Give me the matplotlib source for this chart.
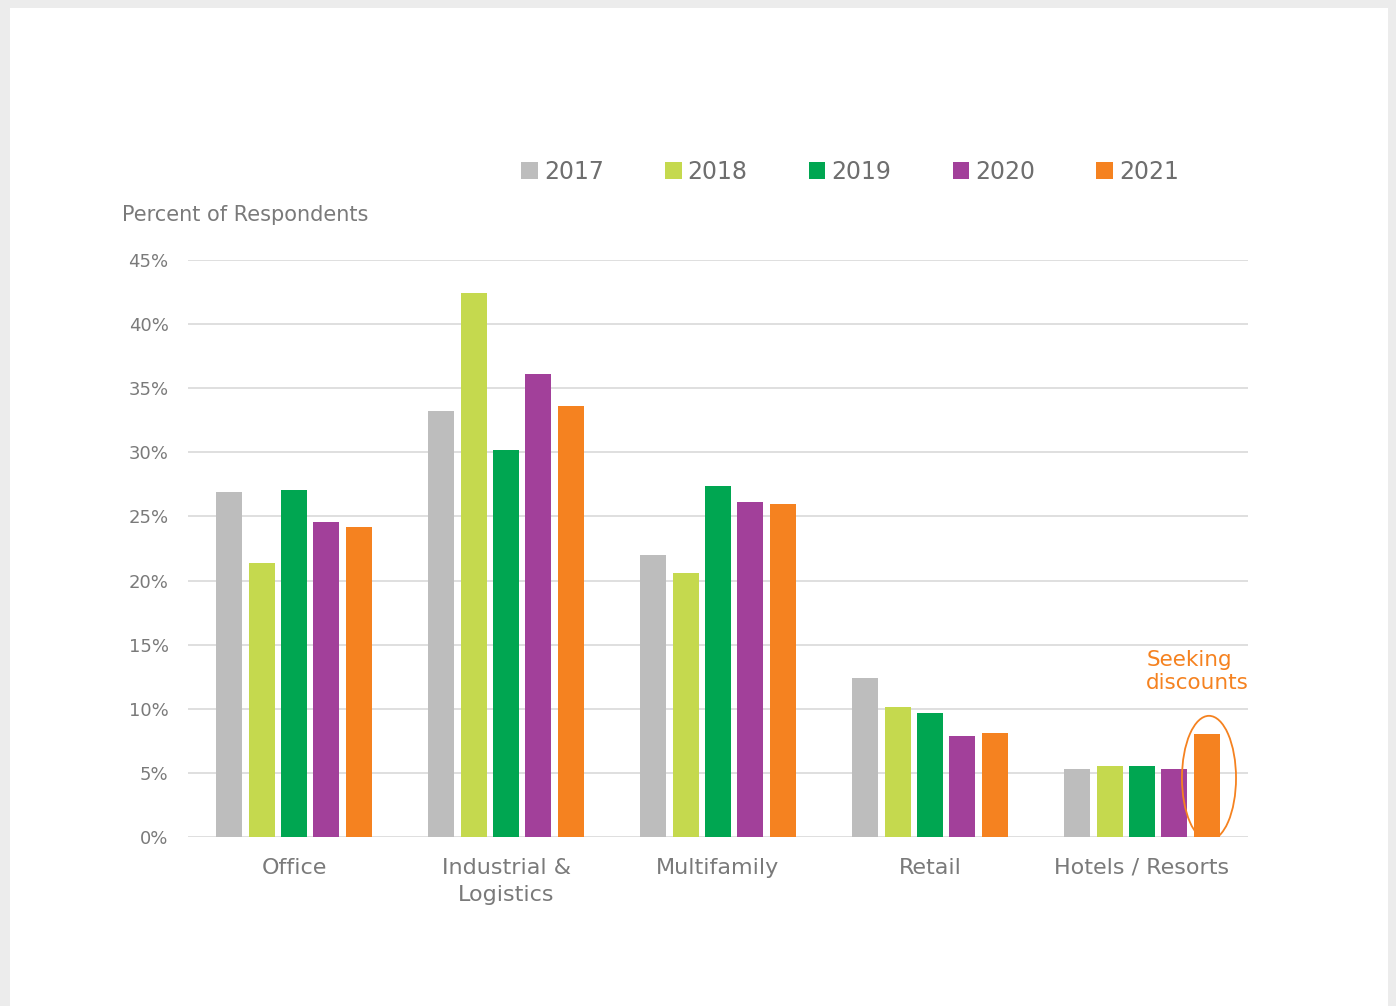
import numpy as np
import matplotlib.pyplot as plt
from matplotlib.patches import Rectangle, Ellipse

# Data
categories = ['Office', 'Industrial &\nLogistics', 'Multifamily', 'Retail', 'Hotels / Resorts']
years = ['2017', '2018', '2019', '2020', '2021']
v2017 = [26.9, 33.2, 22.0, 12.4, 5.3]
v2018 = [21.4, 42.4, 20.6, 10.1, 5.5]
v2019 = [27.1, 30.2, 27.4, 9.7, 5.5]
v2020 = [24.6, 36.1, 26.1, 7.9, 5.3]
v2021 = [24.2, 33.6, 26.0, 8.1, 8.0]
series = [v2017, v2018, v2019, v2020, v2021]
colors = ['#bdbdbd', '#c5d94e', '#00a651', '#a2409a', '#f58220']
yticks = [0, 5, 10, 15, 20, 25, 30, 35, 40, 45]

text_gray = '#7a7a7a'

fig = plt.figure(figsize=(13.96, 10.06), dpi=100, facecolor='#ececec')
# white card behind everything
fig.patches.append(Rectangle((10 / 1396, 0), 1378 / 1396, 1 - 8 / 1006,
                             transform=fig.transFigure, facecolor='white',
                             edgecolor='none', zorder=-10))

ax = fig.add_axes([188 / 1396, 1 - 837 / 1006, 1060 / 1396, 577 / 1006])
ax.set_facecolor('none')

x = np.arange(len(categories))
step = 0.153
width = 0.123
for i, (vals, c, yr) in enumerate(zip(series, colors, years)):
    ax.bar(x + (i - 2) * step, vals, width, color=c, label=yr, zorder=3)

ax.set_xlim(-0.5, 4.5)
ax.set_ylim(0, 45)
ax.set_yticks(yticks)
ax.set_yticklabels([f'{t}%' for t in yticks], color=text_gray, fontsize=13)
ax.set_xticks(x)
ax.set_xticklabels(categories, color=text_gray, fontsize=16, linespacing=1.45)
ax.tick_params(axis='both', length=0)
ax.tick_params(axis='y', pad=14)
ax.tick_params(axis='x', pad=15)
ax.grid(axis='y', color='#dcdcdc', linewidth=1.3, zorder=0)
for s in ax.spines.values():
    s.set_visible(False)

fig.text(122 / 1396, 1 - 215 / 1006, 'Percent of Respondents', color=text_gray,
         fontsize=15, ha='left', va='center')

# highlight the hotel 2021 bar
ax.add_patch(Ellipse((4 + 2 * step + 0.01, 4.6), 0.255, 9.7, fill=False,
                     edgecolor='#f58220', linewidth=1.3, zorder=4))
ax.text(4.02, 14.6, 'Seeking\ndiscounts', color='#f58220', fontsize=15.5,
        ha='left', va='top', linespacing=1.2)

fig.legend(loc='center', bbox_to_anchor=(850 / 1396, 1 - 172 / 1006), ncol=5,
           frameon=False, fontsize=17, handlelength=0.7, handleheight=0.7,
           handletextpad=0.25, columnspacing=2.6, labelcolor='#6e6e6e')

plt.savefig('out.png', dpi=100, facecolor=fig.get_facecolor())
